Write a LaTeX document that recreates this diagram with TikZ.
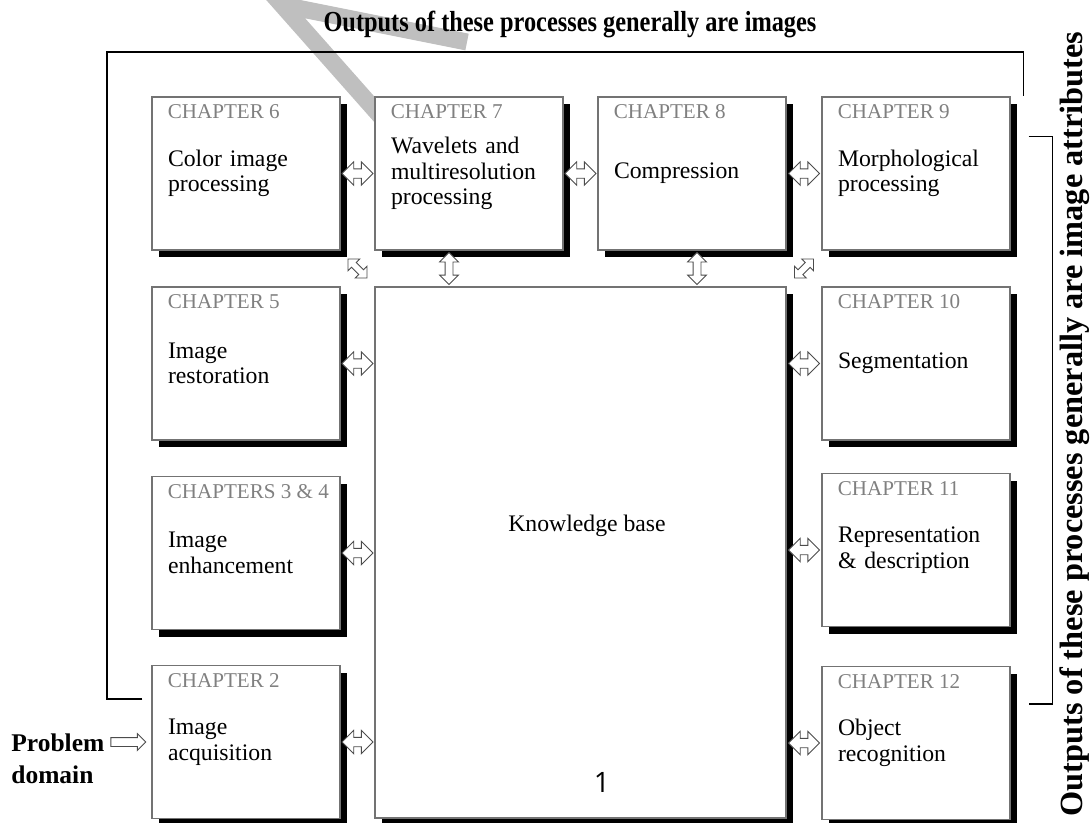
\documentclass[tikz,border=0pt]{standalone}
\usepackage{fontspec}
\setmainfont{Liberation Serif}
\setsansfont{Open Sans}
\usepackage{tikz}
\usetikzlibrary{shapes.arrows,shadows,calc}

\begin{document}
\begin{tikzpicture}[
  chapbox/.style={draw=black!55,fill=white,line width=.6pt,minimum width=3.76cm,minimum height=3.06cm,
    text width=3.12cm,align=left,inner sep=0pt,font=\fontsize{13.5}{14.5}\selectfont,
    drop shadow={shadow xshift=.14cm,shadow yshift=-.14cm,fill=black,opacity=1}},
  chaptag/.style={anchor=north west,xshift=.32cm,yshift=-.16cm,inner sep=0pt,text=black!50,
    font=\fontsize{12}{14}\selectfont},
  dblarr/.style={double arrow,draw=black!70,fill=white,line width=.5pt,inner xsep=0pt,inner ysep=.085cm,
    minimum height=.62cm,double arrow head extend=.14cm},
  vdblarr/.style={dblarr,rotate=90,minimum height=.64cm,inner ysep=.07cm,double arrow head extend=.11cm},
  ddblarr/.style={dblarr,minimum height=.54cm,inner ysep=.06cm,double arrow head extend=.1cm},
  sglarr/.style={single arrow,draw=black!70,fill=white,line width=.5pt,inner xsep=0pt,inner ysep=.08cm,
    minimum height=.7cm,single arrow head extend=.08cm},
  bigtitle/.style={font=\bfseries\fontsize{16.5}{19}\selectfont,inner sep=0pt}
]
\useasboundingbox (0,0) rectangle (21.8,-16.44);
% watermark
\draw[line width=.34cm,black!25] (9.34,-.84) -- (5.64,-.1) -- (7.8,-2.54);

\node[chapbox,label={[chaptag]north west:CHAPTER 6}] (c6) at (4.92,-3.47) {Color image\\processing};
\node[chapbox,label={[chaptag]north west:CHAPTER 7}] (c7) at (9.38,-3.47) {Wavelets and\\multiresolution\\processing};
\node[chapbox,label={[chaptag]north west:CHAPTER 8}] (c8) at (13.84,-3.47) {Compression};
\node[chapbox,label={[chaptag]north west:CHAPTER 9}] (c9) at (18.32,-3.47) {Morphological\\processing};
\node[chapbox,label={[chaptag]north west:CHAPTER 5}] (c5) at (4.92,-7.27) {Image\\restoration};
\node[chapbox,label={[chaptag]north west:CHAPTERS 3 \& 4}] (c34) at (4.92,-11.06) {Image\\enhancement};
\node[chapbox,label={[chaptag]north west:CHAPTER 2}] (c2) at (4.92,-14.84) {Image\\acquisition};
\node[chapbox,label={[chaptag]north west:CHAPTER 10}] (c10) at (18.32,-7.27) {Segmentation};
\node[chapbox,label={[chaptag]north west:CHAPTER 11}] (c11) at (18.32,-11.0) {Representation\\\& description};
\node[chapbox,label={[chaptag]north west:CHAPTER 12}] (c12) at (18.32,-14.86) {Object\\recognition};
\node[chapbox,minimum width=8.22cm,minimum height=10.62cm] (kb) at (11.61,-11.05) {};
\node[font=\fontsize{13.5}{14.5}\selectfont] (kbtxt) at ([shift={(.13,.54)}]kb.center) {Knowledge base};

\node[dblarr] at ($(c6.east)!.5!(c7.west)$) {};
\node[dblarr] at ($(c7.east)!.5!(c8.west)$) {};
\node[dblarr] at ($(c8.east)!.5!(c9.west)$) {};
\node[dblarr] at ($(c5.east)!.5!(c5.east-|kb.west)$) {};
\node[dblarr] at ($(c34.east)!.5!(c34.east-|kb.west)$) {};
\node[dblarr] at ($(c2.east)!.5!(c2.east-|kb.west)$) {};
\node[dblarr] at ($(c10.west)!.5!(c10.west-|kb.east)$) {};
\node[dblarr] at ($(c11.west)!.5!(c11.west-|kb.east)$) {};
\node[dblarr] at ($(c12.west)!.5!(c12.west-|kb.east)$) {};
\node[vdblarr] at ([xshift=-.4cm]$(c7.south)!.5!(c7.south|-kb.north)$) {};
\node[vdblarr] at ([xshift=.1cm]$(c8.south)!.5!(c8.south|-kb.north)$) {};
\node[ddblarr,rotate=-45] at ($(c6.south east)!.5!(kb.north west)$) {};
\node[ddblarr,rotate=45] at ($(c9.south west)!.5!(kb.north east)$) {};

\node[font=\bfseries\fontsize{14.5}{18}\selectfont,align=left,anchor=west,inner sep=0pt] (pd) at (.22,-15.18) {Problem\\domain};
\node[sglarr,anchor=east] (pa) at ([xshift=-.1cm]c2.west) {};

\draw[line width=.8pt] ([shift={(-.18,-.68)}]c2.north west) -| (2.14,-1.04) -| ([xshift=.26cm]c9.north east);
\draw[line width=.8pt] ([shift={(.36,-.8)}]c9.north east) -| ([shift={(.84,-.76)}]c12.north east) -- ([shift={(.36,-.76)}]c12.north east);

\node[bigtitle] (imgs) at (11.4,-.48) {\scalebox{.84}[1]{Outputs of these processes generally are images}};
\node[bigtitle,rotate=90,font=\bfseries\fontsize{18.4}{21}\selectfont] (attr) at (21.5,-8.48) {Outputs of these processes generally are image attributes};
\node[font=\sffamily\fontsize{16}{18}\selectfont] (pg) at (12.04,-15.65) {1};
\end{tikzpicture}
\end{document}
